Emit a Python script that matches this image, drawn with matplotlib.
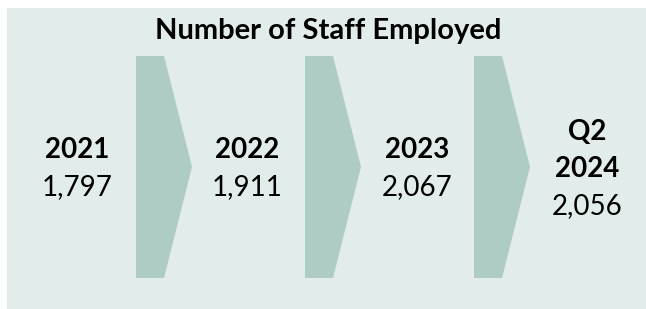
import matplotlib.pyplot as plt
from matplotlib.patches import Polygon, Rectangle

# data
periods = ["2021", "2022", "2023", "Q2\n2024"]
staff = [1797, 1911, 2067, 2056]
title = "Number of Staff Employed"

BG = "#E2ECEA"
ARROW = "#AECBC5"

W, H = 646, 309
fig = plt.figure(figsize=(W / 100, H / 100), dpi=100)
ax = fig.add_axes([0, 0, 1, 1])
ax.set_xlim(0, W)
ax.set_ylim(H, 0)
ax.axis("off")

plt.rcParams['font.family'] = ['Lato', 'DejaVu Sans']

# background panel
ax.add_patch(Rectangle((7, 8), W - 7, H - 8, color=BG, lw=0))

# chevrons between the columns
step = 169
top, bottom = 56, 278
mid = (top + bottom) / 2
for i in range(len(periods) - 1):
    x0 = 136 + i * step
    pts = [(x0, top), (x0 + 28, top), (x0 + 56, mid),
           (x0 + 28, bottom), (x0, bottom)]
    ax.add_patch(Polygon(pts, closed=True, color=ARROW, lw=0))

ax.text(328, 31, title, ha="center", va="center",
        fontsize=21, fontweight="bold", color="black")

for i, (p, v) in enumerate(zip(periods, staff)):
    cx = 77 + i * 170
    lines = p.split("\n")
    n = len(lines)
    y_first = 168 - 18 * n  # centre block around the arrow tip
    for j, ln in enumerate(lines):
        ax.text(cx, y_first + j * 37, ln, ha="center", va="center",
                fontsize=20, fontweight="bold", color="black")
    ax.text(cx, y_first + n * 37, f"{v:,}", ha="center", va="center",
            fontsize=20, color="black")

fig.savefig("out.png", dpi=100, facecolor="white")
